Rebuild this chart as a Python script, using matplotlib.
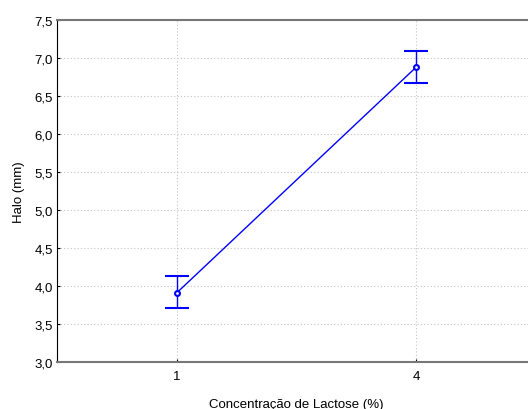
import matplotlib
matplotlib.use("Agg")
import matplotlib.pyplot as plt
from matplotlib.ticker import FuncFormatter

plt.rcParams["font.family"] = ["Liberation Sans", "DejaVu Sans"]

categories = ["1", "4"]
halo_mean = [3.91, 6.88]
err_upper = [4.13, 7.09]
err_lower = [3.71, 6.67]

x = list(range(len(categories)))
yerr = [[m - lo for m, lo in zip(halo_mean, err_lower)],
        [hi - m for m, hi in zip(halo_mean, err_upper)]]

fig = plt.figure(figsize=(5.28, 4.10), dpi=100)
ax = fig.add_axes([0.108, 0.1146, 0.907, 0.8342])

ax.errorbar(x, halo_mean, yerr=yerr, color="#0000ff", linewidth=1,
            elinewidth=1, capsize=8.6, capthick=1,
            marker="o", markersize=3.5, markerfacecolor="white",
            markeredgecolor="#0000ff", markeredgewidth=1.5)

ax.set_xlim(-0.5, 1.5)
ax.set_ylim(3.0, 7.5)
ax.set_xticks(x)
ax.set_xticklabels(categories)
ax.set_yticks([3.0 + 0.5 * i for i in range(10)])
ax.yaxis.set_major_formatter(FuncFormatter(lambda v, p: f"{v:.1f}".replace(".", ",")))

ax.grid(True, linestyle=(0, (1, 2)), color="#c4c4c4", linewidth=0.8)
ax.set_axisbelow(True)
ax.tick_params(direction="in", length=2, labelsize=9.5)
ax.tick_params(axis="x", pad=6)
ax.tick_params(axis="y", pad=3)

ax.spines["left"].set_color("black")
ax.spines["top"].set_color("#777777")
ax.spines["bottom"].set_color("#777777")
ax.spines["bottom"].set_linewidth(1.5)
ax.spines["top"].set_linewidth(1.5)
ax.spines["right"].set_visible(False)

ax.set_xlabel("Concentração de Lactose (%)", fontsize=9.5, labelpad=11)
ax.set_ylabel("Halo (mm)", fontsize=9.5, labelpad=7)

fig.savefig("out.png", dpi=100)
